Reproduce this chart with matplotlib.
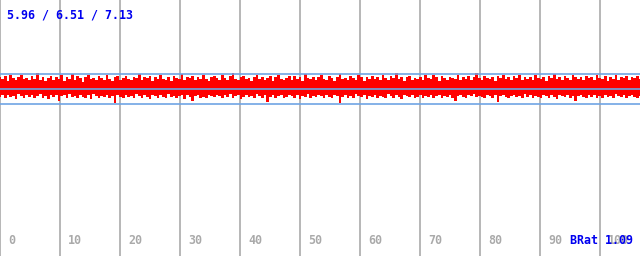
import numpy as np
import matplotlib
matplotlib.use("Agg")
import matplotlib.pyplot as plt

# per-column max / min of the bit rate (Mbit/s)
highs = [6.89,6.84,6.93,6.77,6.96,6.86,6.81,6.91,6.98,6.83,6.88,6.79,6.94,6.85,7.03,6.82,6.90,6.76,6.87,6.95,
         6.80,6.92,6.85,6.97,6.78,6.89,6.84,7.00,6.81,6.93,6.87,6.75,6.91,6.96,6.83,6.88,6.79,6.94,6.86,6.82,
         6.99,6.85,6.77,6.90,6.93,6.81,6.88,6.95,6.84,6.79,6.92,6.87,7.02,6.80,6.89,6.86,6.94,6.78,6.91,6.83,
         6.97,6.85,6.82,6.90,6.76,6.93,6.88,6.84,7.01,6.79,6.92,6.87,6.95,6.81,6.89,6.85,6.98,6.83,6.77,6.91,
         6.94,6.86,6.80,6.96,6.88,6.82,6.93,7.03,6.85,6.79,6.90,6.95,6.84,6.87,6.78,6.92,6.99,6.83,6.89,6.81,
         6.86,6.94,6.77,6.91,6.97,6.85,6.82,6.88,6.93,6.80,6.95,6.84,6.90,6.76,7.02,6.87,6.83,6.92,6.79,6.89,
         6.96,6.85,6.81,6.93,6.88,6.78,6.91,7.00,6.84,6.87,6.80,6.94,6.86,6.82,6.98,6.89,6.77,6.92,6.85,6.95,
         6.83,6.90,6.79,6.97,6.87,6.81,6.93,6.86,7.03,6.84,6.89,6.78,6.92,6.95,6.82,6.88,6.85,6.91,6.80,6.96,
         6.87,6.83,6.99,6.90,6.77,6.94,6.86,6.81,6.92,6.88,6.84,6.97,6.79,6.91,6.85,6.93,6.82,6.89,7.03,6.86,
         6.80,6.95,6.88,6.83,6.91,6.78,6.94,6.87,6.98,6.84,6.90,6.81,6.93,6.86,6.96,6.79,6.89,6.85,6.92,6.82,
         6.97,6.88,6.84,6.91,6.77,6.95,6.86,7.01,6.83,6.90,6.80,6.93,6.87,6.82,6.98,6.89,6.85,6.92,6.79,6.94,
         6.86,6.91,6.81,6.96,6.88,6.84,6.93,6.78,6.90,6.85,6.99,6.82,6.89,6.87,6.94,6.80,6.92,6.86,6.95,6.83]
lows = [6.24,6.29,6.19,6.31,6.22,6.27,6.17,6.33,6.25,6.20,6.28,6.23,6.30,6.18,6.26,6.32,6.21,6.27,6.16,6.29,
        6.23,6.31,6.09,6.25,6.28,6.20,6.33,6.22,6.26,6.18,6.30,6.24,6.21,6.28,6.17,6.32,6.25,6.19,6.27,6.23,
        6.30,6.21,6.26,6.04,6.29,6.24,6.18,6.31,6.22,6.27,6.20,6.33,6.25,6.19,6.28,6.23,6.16,6.30,6.26,6.21,
        6.29,6.24,6.18,6.32,6.22,6.27,6.20,6.25,6.31,6.17,6.28,6.23,6.08,6.26,6.30,6.21,6.24,6.19,6.29,6.27,
        6.22,6.31,6.25,6.18,6.28,6.23,6.33,6.20,6.26,6.29,6.17,6.24,6.30,6.22,6.27,6.19,6.32,6.25,6.21,6.28,
        6.06,6.24,6.29,6.20,6.26,6.31,6.18,6.23,6.28,6.25,6.21,6.30,6.17,6.27,6.24,6.32,6.19,6.26,6.22,6.29,
        6.25,6.20,6.31,6.23,6.18,6.28,6.26,6.03,6.24,6.30,6.21,6.27,6.19,6.33,6.25,6.22,6.29,6.17,6.26,6.23,
        6.30,6.21,6.27,6.24,6.19,6.32,6.25,6.20,6.28,6.23,6.16,6.30,6.26,6.22,6.29,6.18,6.24,6.31,6.21,6.27,
        6.23,6.28,6.20,6.25,6.31,6.18,6.27,6.24,6.29,6.21,6.10,6.26,6.30,6.23,6.19,6.28,6.25,6.32,6.22,6.27,
        6.24,6.19,6.30,6.26,6.21,6.28,6.05,6.25,6.31,6.23,6.18,6.27,6.29,6.22,6.26,6.20,6.33,6.24,6.28,6.21,
        6.27,6.23,6.18,6.30,6.25,6.21,6.29,6.24,6.16,6.28,6.26,6.22,6.31,6.19,6.27,6.08,6.25,6.30,6.23,6.20,
        6.28,6.24,6.31,6.21,6.26,6.18,6.29,6.23,6.27,6.20,6.32,6.25,6.22,6.28,6.19,6.26,6.30,6.24,6.21,6.27]

ref_levels = [6.0, 6.5, 7.0]
x_ticks = [0, 10, 20, 30, 40, 50, 60, 70, 80, 90, 100]
stats_text = "5.96 / 6.51 / 7.13"
brat_text = "BRat 1.09"

t = np.linspace(0, 640 / 6.0, len(highs))

fig = plt.figure(figsize=(6.4, 2.56), dpi=100)
ax = fig.add_axes([0, 0, 1, 1])
ax.set_xlim(0, 640 / 6.0)
ax.set_ylim(6.5 - 167 / 29.5, 6.5 + 89 / 29.5)
ax.axis("off")

for v in x_ticks:
    ax.axvline(v, color="#aaaaaa", lw=1.2, zorder=1)
    ax.annotate(str(v), (v, 0), xycoords=("data", "axes fraction"),
                xytext=(8, 15), textcoords="offset pixels", ha="left", va="center",
                family="DejaVu Sans Mono", fontweight="bold", fontsize=8.4, color="#aaaaaa")

ax.fill_between(t, lows, highs, step="mid", color="#ff0000", lw=0, zorder=2)

for lv in ref_levels:
    ax.axhline(lv, color="#70a4e4", lw=1.2, zorder=3)

fig.text(7 / 640, 1 - 15 / 256, stats_text, ha="left", va="center",
         family="DejaVu Sans Mono", fontweight="bold", fontsize=8.4, color="#0000f0")
fig.text(633 / 640, 15 / 256, brat_text, ha="right", va="center",
         family="DejaVu Sans Mono", fontweight="bold", fontsize=8.4, color="#0000f0")

fig.savefig("out.png", dpi=100, facecolor="white")
